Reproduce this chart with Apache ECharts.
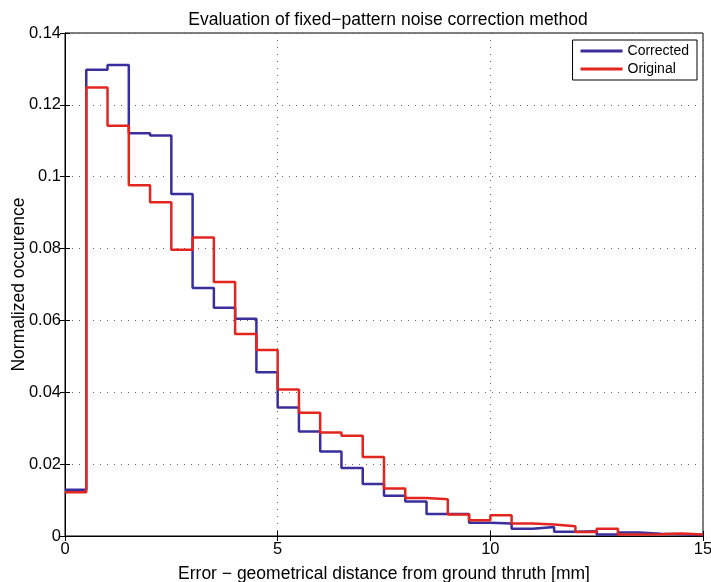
<!DOCTYPE html>
<html>
<head>
<meta charset="utf-8">
<script src="https://cdn.jsdelivr.net/npm/echarts@6/dist/echarts.min.js"></script>
<style>
  html, body { margin: 0; padding: 0; background: #fff; }
  #chart { width: 711px; height: 582px; }
</style>
</head>
<body>
<div id="chart"></div>
<script>
// bin left edges (mm), last entry closes the final bin
const binEdges = [0, 0.5, 1, 1.5, 2, 2.5, 3, 3.5, 4, 4.5, 5, 5.5, 6, 6.5, 7, 7.5,
  8, 8.5, 9, 9.5, 10, 10.5, 11, 11.5, 12, 12.5, 13, 13.5, 14, 14.5, 15];

const corrected = [0.0129, 0.1298, 0.1311, 0.1121, 0.1115, 0.0952, 0.0690, 0.0635,
  0.0605, 0.0456, 0.0358, 0.0291, 0.0235, 0.0189, 0.0145, 0.0112,
  0.0096, 0.0061, 0.0061, 0.0037, 0.0035, 0.0020, 0.0025, 0.0012,
  0.0013, 0.0004, 0.0010, 0.0006, 0.0005, 0.0003];

const original = [0.0122, 0.1248, 0.1142, 0.0976, 0.0929, 0.0797, 0.0831, 0.0707,
  0.0562, 0.0518, 0.0408, 0.0343, 0.0288, 0.0279, 0.0220, 0.0132,
  0.0106, 0.0102, 0.0060, 0.0044, 0.0058, 0.0035, 0.0032, 0.0027,
  0.0011, 0.0020, 0.0004, 0.0005, 0.0007, 0.0004];

const seriesNames = ["Corrected", "Original"];
const xTicks = { min: 0, max: 15, interval: 5 };
const yTicks = { min: 0, max: 0.14, interval: 0.02 };

function stairs(values) {
  let pts = values.map((v, i) => [binEdges[i], v]);
  pts.push([binEdges[values.length], values[values.length - 1]]);
  return pts;
}

const font = "Liberation Sans";
let myChart = echarts.init(document.getElementById("chart"));

let gridLine = {
  show: true,
  lineStyle: { color: "#666", width: 1, type: [1, 6] }
};

let tickStyle = { show: true, inside: true, length: 5, lineStyle: { color: "#000" } };

let option = {
  animation: false,
  backgroundColor: "#fff",
  textStyle: { fontFamily: font },
  title: {
    text: "Evaluation of fixed\u2212pattern noise correction method",
    left: 383,
    textAlign: "center",
    top: 6,
    textStyle: { fontFamily: font, fontSize: 17.5, fontWeight: "normal", color: "#000" }
  },
  legend: {
    data: seriesNames,
    orient: "vertical",
    right: 14,
    top: 40,
    icon: "rect",
    backgroundColor: "#fff",
    borderColor: "#000",
    borderWidth: 1,
    padding: [4, 8, 4, 8],
    itemGap: 4,
    itemWidth: 42,
    itemHeight: 3,
    textStyle: { fontFamily: font, fontSize: 14, lineHeight: 14, color: "#000" }
  },
  grid: {
    left: 65,
    right: 8,
    top: 33,
    bottom: 46,
    containLabel: false,
    outerBoundsMode: "none",
    show: true,
    borderColor: "#000",
    borderWidth: 1
  },
  xAxis: [
    {
      type: "value",
      min: xTicks.min,
      max: xTicks.max,
      interval: xTicks.interval,
      name: "Error \u2212 geometrical distance from ground thruth [mm]",
      nameLocation: "middle",
      nameGap: 29,
      nameMoveOverlap: false,
      nameTextStyle: { fontFamily: font, fontSize: 17.5, color: "#000" },
      axisLine: { show: true, lineStyle: { color: "#000", width: 1 } },
      axisTick: tickStyle,
      axisLabel: { fontFamily: font, fontSize: 16.5, color: "#000", margin: 5 },
      splitLine: gridLine
    },
    {
      type: "value",
      position: "top",
      min: xTicks.min,
      max: xTicks.max,
      interval: xTicks.interval,
      axisLine: { show: true, lineStyle: { color: "#000", width: 1 } },
      axisTick: tickStyle,
      axisLabel: { show: false },
      splitLine: { show: false }
    }
  ],
  yAxis: [
    {
      type: "value",
      min: yTicks.min,
      max: yTicks.max,
      interval: yTicks.interval,
      name: "Normalized occurence",
      nameLocation: "middle",
      nameGap: 37,
      nameMoveOverlap: false,
      nameTextStyle: { fontFamily: font, fontSize: 17.5, color: "#000" },
      axisLine: { show: true, lineStyle: { color: "#000", width: 1 } },
      axisTick: tickStyle,
      axisLabel: { fontFamily: font, fontSize: 16.5, color: "#000", margin: 4 },
      splitLine: gridLine
    },
    {
      type: "value",
      position: "right",
      min: yTicks.min,
      max: yTicks.max,
      interval: yTicks.interval,
      axisLine: { show: true, lineStyle: { color: "#000", width: 1 } },
      axisTick: tickStyle,
      axisLabel: { show: false },
      splitLine: { show: false }
    }
  ],
  series: [
    {
      name: seriesNames[0],
      type: "line",
      step: "end",
      data: stairs(corrected),
      showSymbol: false,
      symbol: "none",
      color: "#3a2e9c",
      lineStyle: { width: 2.5, color: "#3a2e9c" }
    },
    {
      name: seriesNames[1],
      type: "line",
      step: "end",
      data: stairs(original),
      showSymbol: false,
      symbol: "none",
      color: "#e2261f",
      lineStyle: { width: 2.5, color: "#e2261f" }
    }
  ]
};

myChart.setOption(option);
</script>
</body>
</html>
